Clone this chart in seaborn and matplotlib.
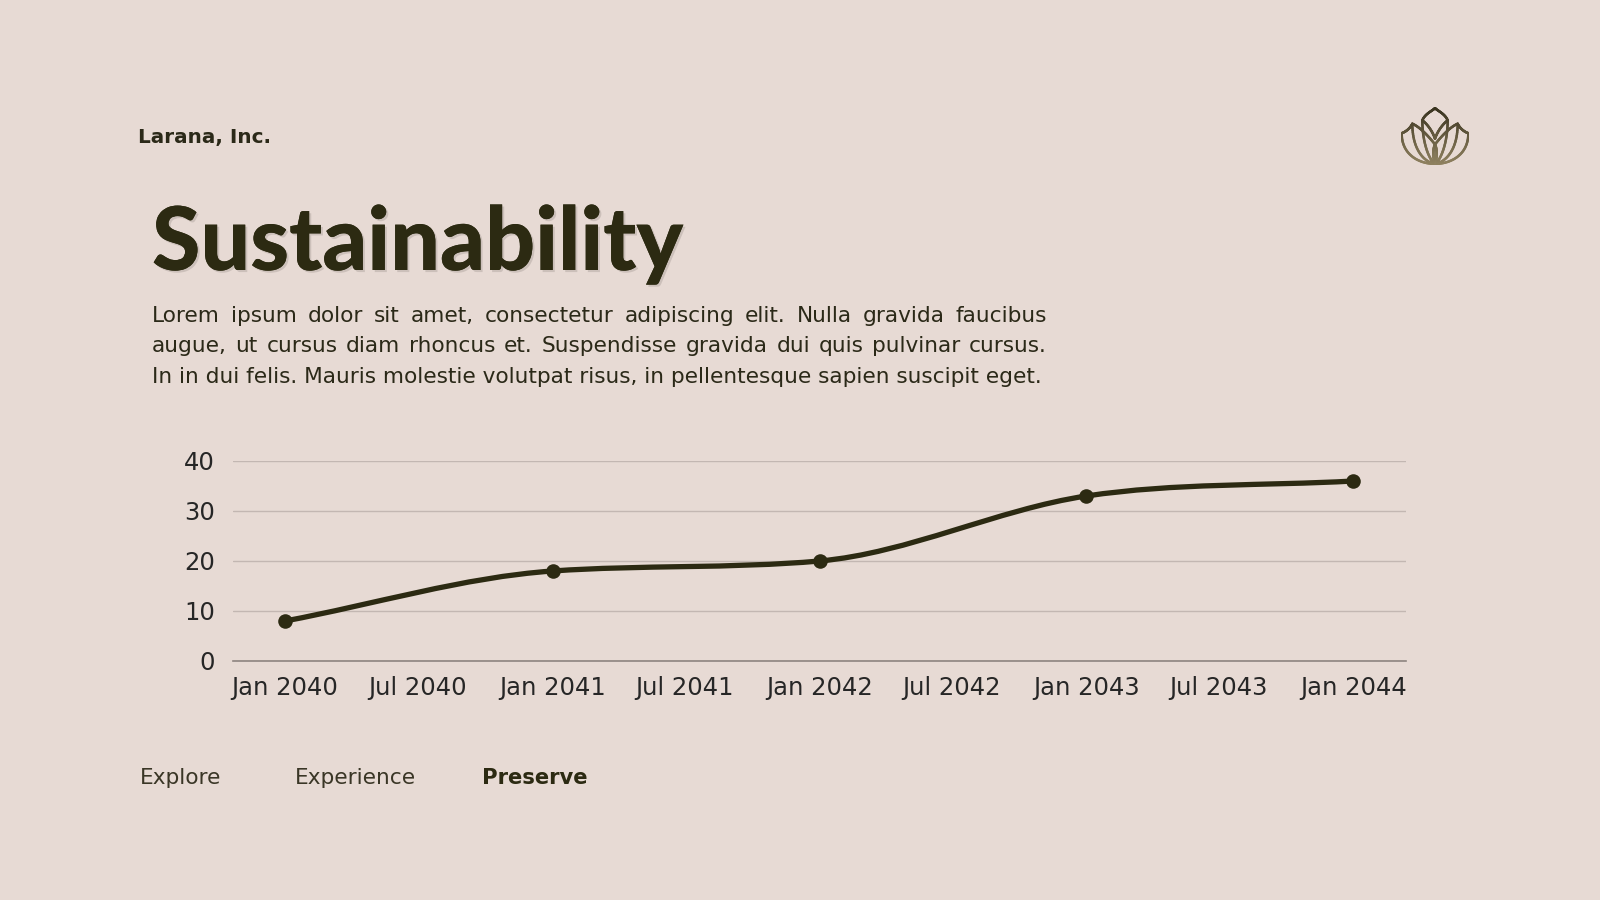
import numpy as np
import pandas as pd
import matplotlib
matplotlib.use("Agg")
import matplotlib.pyplot as plt
import matplotlib.dates as mdates
import matplotlib.patheffects as pe
from matplotlib.path import Path
from matplotlib.patches import PathPatch
from matplotlib.collections import LineCollection
from matplotlib.colors import LinearSegmentedColormap
import seaborn as sns

# chart data
dates = ["2040-01-01", "2041-01-01", "2042-01-01", "2043-01-01", "2044-01-01"]
values = [8, 18, 20, 33, 36]
y_ticks = [0, 10, 20, 30, 40]
x_ticks = ["2040-01-01", "2040-07-01", "2041-01-01", "2041-07-01", "2042-01-01",
           "2042-07-01", "2043-01-01", "2043-07-01", "2044-01-01"]
x_tick_labels = ["Jan 2040", "Jul 2040", "Jan 2041", "Jul 2041", "Jan 2042",
                 "Jul 2042", "Jan 2043", "Jul 2043", "Jan 2044"]

company = "Larana, Inc."
title = "Sustainability"
body_lines = [
    "Lorem ipsum dolor sit amet, consectetur adipiscing elit. Nulla gravida faucibus",
    "augue, ut cursus diam rhoncus et. Suspendisse gravida dui quis pulvinar cursus.",
    "In in dui felis. Mauris molestie volutpat risus, in pellentesque sapien suscipit eget.",
]
nav_items = ["Explore", "Experience", "Preserve"]

BG = "#e7dad4"
DARK = "#2c2a12"
TEXT = "#2b2918"
W, H = 1600, 900

sns.set_theme(style="white")
plt.rcParams["font.family"] = ["DejaVu Sans"]

fig = plt.figure(figsize=(16, 9), dpi=100, facecolor=BG)
renderer = fig.canvas.get_renderer()


def px(x, y):
    return x / W, 1 - y / H


def fit_text(x, y, s, width, size=14, **kw):
    t = fig.text(*px(x, y), s, fontsize=size, va="baseline", ha="left", **kw)
    w = t.get_window_extent(renderer).width
    t.set_fontsize(size * width / w)
    return t


def text_width(s, size, **kw):
    t = fig.text(0, 0, s, fontsize=size, **kw)
    w = t.get_window_extent(renderer).width
    t.remove()
    return w


# header
fit_text(138, 143, company, 133, size=16, fontweight="bold", color=TEXT)
t = fit_text(152, 270, title, 532, size=60, family="Lato", fontweight="black", color=DARK)
t.set_path_effects([pe.withSimplePatchShadow(offset=(1.5, -1.5), shadow_rgbFace="#9c918c", alpha=0.35),
                    pe.Normal()])

# body text, justified like the original
body_size = 14
natural = text_width(body_lines[2], body_size)
body_size = body_size * 890 / natural
line_w = 895
for i, line in enumerate(body_lines):
    y = 322 + i * 30.5
    words = line.split(" ")
    if i == len(body_lines) - 1:
        fig.text(*px(152, y), line, fontsize=body_size, color=TEXT, va="baseline")
        continue
    widths = [text_width(w, body_size) for w in words]
    gap = (line_w - sum(widths)) / (len(words) - 1)
    x = 152
    for w, ww in zip(words, widths):
        fig.text(*px(x, y), w, fontsize=body_size, color=TEXT, va="baseline")
        x += ww + gap

# chart
ax = fig.add_axes([233 / W, 1 - 661 / H, (1406 - 233) / W, 200 / H])
ax.set_facecolor(BG)

df = pd.DataFrame({"date": pd.to_datetime(dates), "value": values})
xs = mdates.date2num(df["date"])
ys = df["value"].to_numpy(dtype=float)

# monotone cubic curve through the points
d = np.diff(ys) / np.diff(xs)
m = np.zeros_like(ys)
m[0], m[-1] = d[0], d[-1]
for k in range(1, len(ys) - 1):
    m[k] = 0 if d[k - 1] * d[k] <= 0 else (d[k - 1] + d[k]) / 2
for k in range(len(d)):
    a, b = m[k] / d[k], m[k + 1] / d[k]
    s2 = a * a + b * b
    if s2 > 9:
        tau = 3 / np.sqrt(s2)
        m[k], m[k + 1] = tau * a * d[k], tau * b * d[k]
verts = [(xs[0], ys[0])]
codes = [Path.MOVETO]
for k in range(len(d)):
    h = (xs[k + 1] - xs[k]) / 3
    verts += [(xs[k] + h, ys[k] + m[k] * h), (xs[k + 1] - h, ys[k + 1] - m[k + 1] * h),
              (xs[k + 1], ys[k + 1])]
    codes += [Path.CURVE4] * 3
ax.add_patch(PathPatch(Path(verts, codes), fill=False, edgecolor=DARK, lw=3.8,
                       capstyle="round", zorder=3))
sns.scatterplot(data=df, x="date", y="value", s=110, color=DARK, edgecolor=DARK,
                linewidth=0, zorder=4, ax=ax, legend=False)

ax.set_xlim(xs[0] - 71, xs[-1] + 72)
ax.set_ylim(0, 40)
ax.set_yticks(y_ticks)
ax.set_xticks(mdates.date2num(pd.to_datetime(x_ticks)))
ax.set_xticklabels(x_tick_labels)
ax.set_xlabel("")
ax.set_ylabel("")
ax.yaxis.grid(True, color="#c3b7b2", lw=1)
ax.set_axisbelow(True)
for side in ["top", "right", "left"]:
    ax.spines[side].set_visible(False)
ax.spines["bottom"].set_color("#8e8480")
ax.spines["bottom"].set_linewidth(1.2)
ax.tick_params(axis="both", length=0, labelsize=17.5, labelcolor="#262626")
ax.tick_params(axis="y", pad=13)
ax.tick_params(axis="x", pad=11)

# bottom navigation
fig.text(*px(140, 784), nav_items[0], fontsize=15.6, color="#3a3626", va="baseline")
fig.text(*px(295, 784), nav_items[1], fontsize=15.6, color="#3a3626", va="baseline")
fig.text(*px(482, 784), nav_items[2], fontsize=15.2, color=DARK, fontweight="bold", va="baseline")

# lotus logo
lax = fig.add_axes([1401 / W, 1 - 165 / H, 68 / W, 58 / H])
lax.set_xlim(-1.02, 1.02)
lax.set_ylim(-0.02, 1.02)
lax.axis("off")


def bez(p0, p1, p2, p3, n=40):
    t = np.linspace(0, 1, n)[:, None]
    p0, p1, p2, p3 = map(np.array, (p0, p1, p2, p3))
    return (1 - t) ** 3 * p0 + 3 * (1 - t) ** 2 * t * p1 + 3 * (1 - t) * t ** 2 * p2 + t ** 3 * p3


curves = []
for sgn in (-1, 1):
    curves.append(bez((sgn * 1.0, 0.55), (sgn * 1.0, 0.15), (sgn * 0.45, 0.0), (0, 0.0)))
    curves.append(bez((sgn * 0.68, 0.72), (sgn * 0.68, 0.2), (sgn * 0.25, 0.02), (0, 0.0)))
    curves.append(bez((sgn * 0.38, 0.78), (sgn * 0.38, 0.35), (sgn * 0.15, 0.05), (0, 0.0)))
    curves.append(bez((sgn * 0.38, 0.78), (sgn * 0.3, 0.9), (sgn * 0.08, 0.95), (0, 1.0)))
    curves.append(bez((sgn * 1.0, 0.55), (sgn * 0.85, 0.58), (sgn * 0.72, 0.66), (sgn * 0.68, 0.72)))
    curves.append(bez((sgn * 0.68, 0.72), (sgn * 0.45, 0.66), (sgn * 0.2, 0.5), (0, 0.35)))
    curves.append(bez((sgn * 0.38, 0.78), (sgn * 0.2, 0.7), (sgn * 0.05, 0.55), (0, 0.45)))
    curves.append(bez((0, 0.35), (sgn * 0.08, 0.25), (sgn * 0.05, 0.08), (0, 0.0)))
cmap = LinearSegmentedColormap.from_list("lotus", ["#8f8160", "#3a3420"])
for c in curves:
    segs = np.stack([c[:-1], c[1:]], axis=1)
    lc = LineCollection(segs, cmap=cmap, linewidths=1.8, capstyle="round")
    lc.set_array(c[:-1, 1])
    lc.set_clim(0, 1)
    lax.add_collection(lc)

fig.savefig("out.png", dpi=100, facecolor=BG)
